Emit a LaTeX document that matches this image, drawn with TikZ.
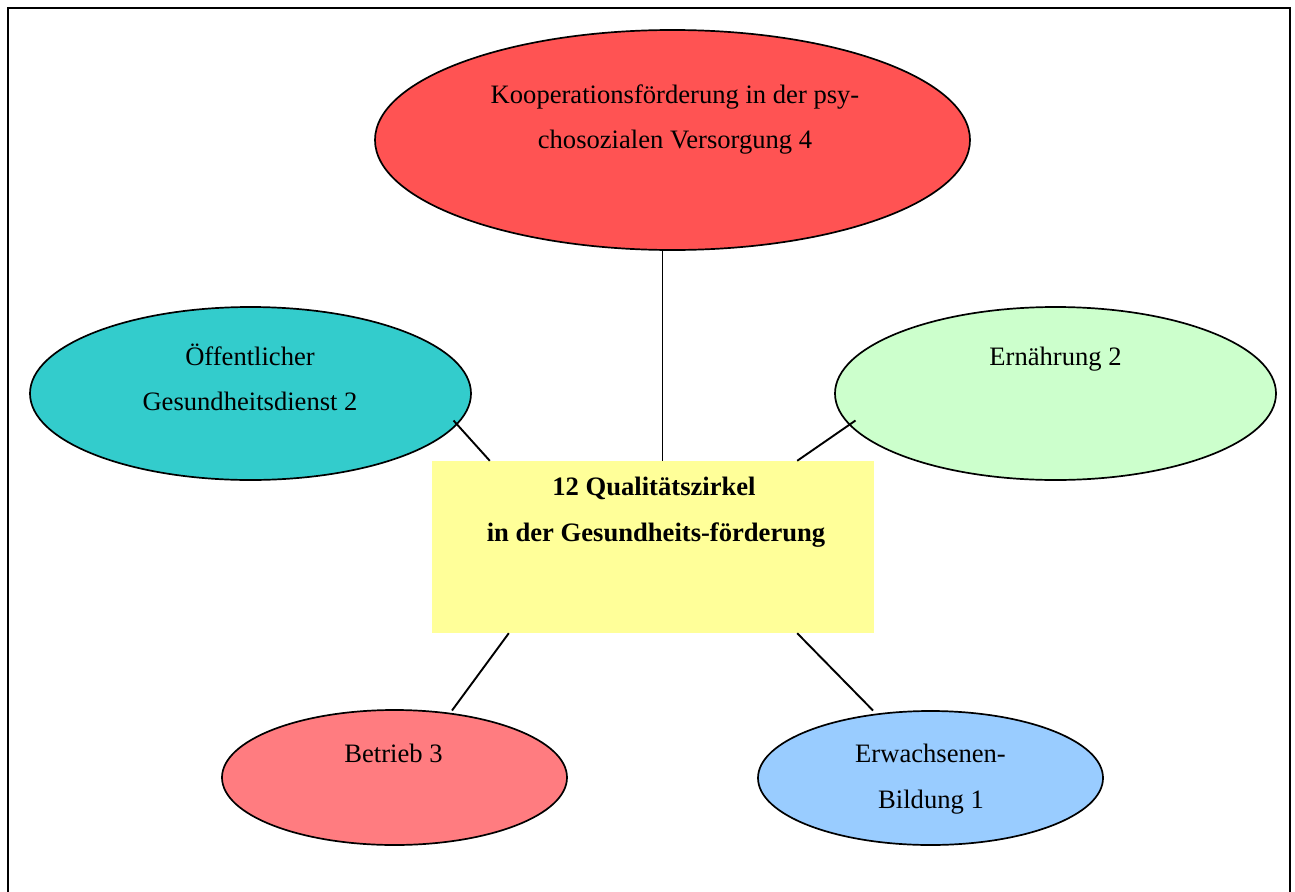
\documentclass[tikz,border=0pt]{standalone}
\usepackage{fontspec}
\setmainfont{Liberation Serif}
\usetikzlibrary{shapes.geometric,calc}
\definecolor{cTop}{HTML}{FF5353}
\definecolor{cLeft}{HTML}{33CCCC}
\definecolor{cRight}{HTML}{CCFFCC}
\definecolor{cBox}{HTML}{FFFF99}
\definecolor{cBL}{HTML}{FF7C80}
\definecolor{cBR}{HTML}{99CCFF}
\tikzset{
  oval/.style={ellipse,draw=black,line width=1.7pt,inner sep=0pt},
  txt/.style={anchor=base,inner sep=0pt,font=\fontsize{26.6}{30}\selectfont},
  btxt/.style={anchor=base,inner sep=0pt,font=\fontsize{26.6}{30}\selectfont\bfseries},
  conn/.style={line width=1.9pt,black},
  frame/.style={line width=2pt,black}
}
\begin{document}
\begin{tikzpicture}[x=1pt,y=-1pt]
\useasboundingbox (0,0) rectangle (1295,891);
% frame
\coordinate (f1) at (8,893);
\coordinate (f2) at (8,8);
\coordinate (f3) at (1290,8);
\coordinate (f4) at (1290,893);
\draw[frame] (f1) -- (f2) -- (f3) -- (f4);
% nodes
\node[oval,fill=cTop,minimum width=595pt,minimum height=220pt] (kop) at (672.5,140) {};
\node[oval,fill=cLeft,minimum width=441pt,minimum height=173pt] (oegd) at (250.5,393.5) {};
\node[oval,fill=cRight,minimum width=441pt,minimum height=173pt] (ern) at (1055.5,393.5) {};
\node[fill=cBox,minimum width=442pt,minimum height=172pt,inner sep=0pt] (box) at (653,547) {};
\node[oval,fill=cBL,minimum width=345pt,minimum height=135pt] (betr) at (394.5,777.5) {};
\node[oval,fill=cBR,minimum width=345pt,minimum height=134pt] (erw) at (930.5,778) {};
% texts
\node[txt] (kopa) at (675,103) {Kooperationsförderung in der psy-};
\node[txt] (kopb) at (675,148) {chosozialen Versorgung 4};
\node[txt] (oegda) at (250,365) {Öffentlicher};
\node[txt] (oegdb) at (250,410.5) {Gesundheitsdienst 2};
\node[txt] (erna) at (1055.5,365) {Ernährung 2};
\node[btxt] (boxa) at (654,495) {12 Qualitätszirkel};
\node[btxt] (boxb) at (656,541) {in der Gesundheits-förderung};
\node[txt] (betra) at (393.5,762) {Betrieb 3};
\node[txt] (erwa) at (930.5,762) {Erwachsenen-};
\node[txt] (erwb) at (931,808) {Bildung 1};
% connectors
\coordinate (c1) at ($(kop.center)+(-10,110)$);
\draw[conn] (c1) -- (c1 |- box.north);
\draw[conn] ($(oegd.center)+(203,27)$) -- ($(box.north west)+(58,0)$);
\draw[conn] ($(ern.center)+(-200,27)$) -- ($(box.north east)+(-77,0)$);
\draw[conn] ($(box.south west)+(77,0)$) -- ($(betr.center)+(57.5,-67)$);
\draw[conn] ($(box.south east)+(-77,0)$) -- ($(erw.center)+(-57.5,-67.5)$);
\end{tikzpicture}
\end{document}
